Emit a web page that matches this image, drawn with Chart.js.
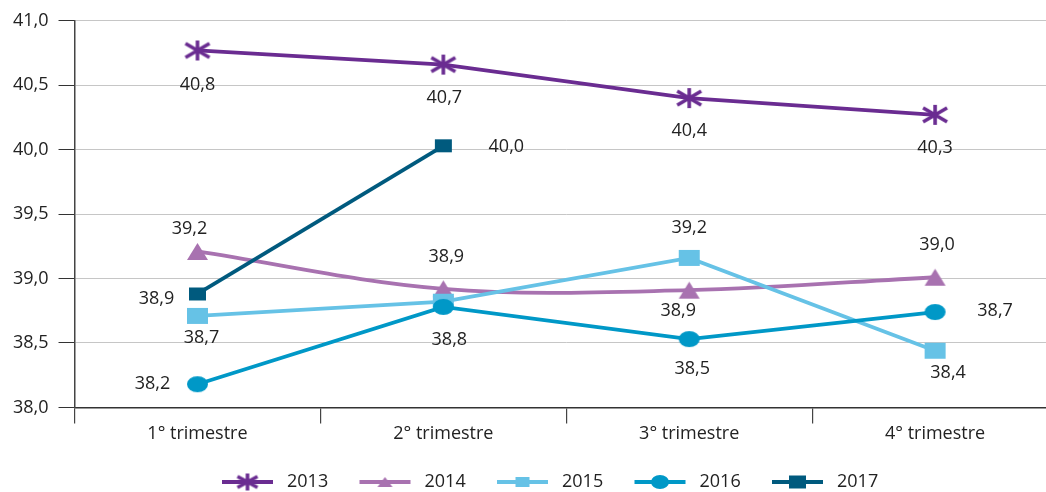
<!DOCTYPE html>
<html><head><meta charset="utf-8">
<script src="https://cdn.jsdelivr.net/npm/chart.js@4.4.0/dist/chart.umd.min.js"></script>
<style>html,body{margin:0;padding:0;overflow:hidden;background:#fff;width:1046px;height:492px}canvas{display:block}</style>
</head><body>
<canvas id="c" width="1068" height="492"></canvas>
<script>
const categories = ['1° trimestre', '2° trimestre', '3° trimestre', '4° trimestre'];
const seriesNames = ['2013', '2014', '2015', '2016', '2017'];
const values2013 = [40.77, 40.66, 40.40, 40.27];
const values2014 = [39.21, 38.92, 38.91, 39.01];
const values2015 = [38.71, 38.82, 39.16, 38.44];
const values2016 = [38.18, 38.78, 38.53, 38.74];
const values2017 = [38.88, 40.03, null, null];
const yTicks = [38.0, 38.5, 39.0, 39.5, 40.0, 40.5, 41.0];

const colors = ['#6a2c91', '#a872b0', '#66c2e6', '#0098c7', '#005a7e'];
const FONT = '"Open Sans", "Noto Sans", sans-serif';
const FS = 18;

// label offsets [dx, dy] relative to point, null = hidden
const labelOffsets = [
  [[0, 34], [1, 33], [0, 33], [0, 33]],
  [[-8, -23], [3, -32], [-11, 21], [2, -32]],
  [[4, 22], null, [0, -30], [13, 22]],
  [[-45, 0], [6, 33], [3, 30], [60, -1]],
  [[-41, 5], [63, 1], null, null]
];

function makeMarker(kind, w, h, color) {
  const c = document.createElement('canvas');
  c.width = w + 4; c.height = h + 4;
  const g = c.getContext('2d');
  const cx = c.width / 2, cy = c.height / 2;
  g.fillStyle = color; g.strokeStyle = color;
  if (kind === 'asterisk') {
    g.lineWidth = 3.6;
    g.beginPath();
    g.moveTo(cx - w / 2, cy - h / 2 + 3); g.lineTo(cx + w / 2, cy + h / 2 - 3);
    g.moveTo(cx + w / 2, cy - h / 2 + 3); g.lineTo(cx - w / 2, cy + h / 2 - 3);
    g.moveTo(cx, cy - h / 2); g.lineTo(cx, cy + h / 2);
    g.stroke();
  } else if (kind === 'triangle') {
    g.beginPath();
    g.moveTo(cx, cy - h / 2); g.lineTo(cx + w / 2, cy + h / 2); g.lineTo(cx - w / 2, cy + h / 2);
    g.closePath(); g.fill();
  } else if (kind === 'rect') {
    g.fillRect(cx - w / 2, cy - h / 2, w, h);
  } else if (kind === 'ellipse') {
    g.beginPath(); g.ellipse(cx, cy, w / 2, h / 2, 0, 0, Math.PI * 2); g.fill();
  }
  return c;
}

const markerSpecs = [['asterisk', 24, 20], ['triangle', 21, 17], ['rect', 21, 16], ['ellipse', 21, 16], ['rect', 17, 13]];
const legendSpecs = [['asterisk', 20, 17], ['triangle', 15, 10], ['rect', 14, 10], ['ellipse', 18, 14], ['rect', 17, 13]];
const pointImgs = markerSpecs.map((s, i) => makeMarker(s[0], s[1], s[2], colors[i]));
const legendImgs = legendSpecs.map((s, i) => makeMarker(s[0], s[1], s[2], colors[i]));

const seriesValues = [values2013, values2014, values2015, values2016, values2017];
const fmt = v => v.toFixed(1).replace('.', ',');

const labelPlugin = {
  id: 'labels',
  afterDatasetsDraw(chart) {
    const ctx = chart.ctx;
    ctx.save();
    ctx.font = FS + 'px ' + FONT;
    ctx.fillStyle = '#222';
    ctx.textAlign = 'center';
    ctx.textBaseline = 'middle';
    chart.data.datasets.forEach((ds, i) => {
      const meta = chart.getDatasetMeta(i);
      meta.data.forEach((pt, j) => {
        const v = ds.data[j];
        const off = labelOffsets[i][j];
        if (v == null || !off) return;
        ctx.fillText(fmt(v), pt.x + off[0], pt.y + off[1]);
      });
    });
    // legend
    const ly = 482;
    seriesNames.forEach((name, i) => {
      const x0 = 222 + i * 137.5;
      ctx.strokeStyle = colors[i];
      ctx.lineWidth = 3.8;
      ctx.beginPath(); ctx.moveTo(x0, ly); ctx.lineTo(x0 + 51, ly); ctx.stroke();
      const im = legendImgs[i];
      ctx.drawImage(im, x0 + 25.5 - im.width / 2, ly - im.height / 2);
      ctx.fillStyle = '#222';
      ctx.textAlign = 'left';
      ctx.fillText(name, x0 + 65, ly);
    });
    ctx.restore();
  }
};

new Chart(document.getElementById('c'), {
  type: 'line',
  data: {
    labels: categories,
    datasets: seriesValues.map((vals, i) => ({
      label: seriesNames[i],
      data: vals,
      borderColor: colors[i],
      backgroundColor: colors[i],
      borderWidth: 3.8,
      pointStyle: pointImgs[i],
      pointRadius: 10,
      pointHoverRadius: 10,
      pointBorderWidth: 0,
      tension: i === 1 ? 0.35 : 0,
      spanGaps: false,
      order: 4 - i
    }))
  },
  options: {
    responsive: false,
    animation: false,
    layout: {padding: {top: 7, right: 0, bottom: 47, left: 3}},
    plugins: {legend: {display: false}, tooltip: {enabled: false}},
    scales: {
      x: {
        offset: true,
        grid: {offset: true, drawOnChartArea: false, drawTicks: true, tickLength: 16, tickColor: '#444', lineWidth: 1.2},
        border: {color: '#333', width: 1.5},
        ticks: {font: {family: FONT, size: FS}, color: '#222', padding: 0}
      },
      y: {
        min: 38, max: 41,
        afterBuildTicks(axis) { axis.ticks = yTicks.map(v => ({value: v})); },
        grid: {color: '#c6c6c6', lineWidth: 1, tickLength: 16, tickColor: '#333'},
        border: {color: '#444', width: 1.5},
        ticks: {font: {family: FONT, size: FS}, color: '#222', padding: 10, callback: v => fmt(v)}
      }
    }
  },
  plugins: [labelPlugin]
});
</script>
</body></html>
